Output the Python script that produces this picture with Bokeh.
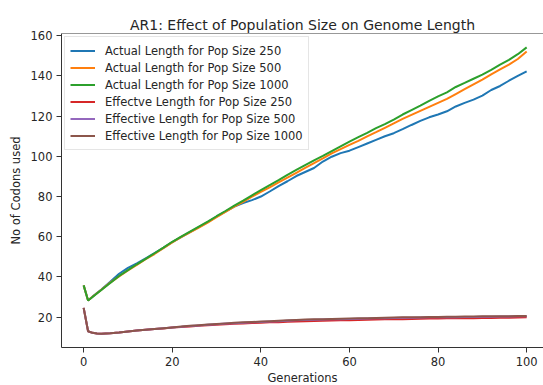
from bokeh.plotting import figure
from bokeh.models import Range1d, Span, Legend, LegendItem, FixedTicker
from bokeh.embed import file_html
from bokeh.resources import INLINE

gens = [0, 1, 2, 3, 4, 6, 8, 10, 12, 14, 16, 18, 20, 22, 24, 26, 28, 30, 32, 34, 36, 38,
        40, 42, 44, 46, 48, 50, 52, 54, 56, 58, 60, 62, 64, 66, 68, 70, 72, 74, 76, 78,
        80, 82, 84, 86, 88, 90, 92, 94, 96, 98, 100]

actual_250 = [35.8, 28.3, 30.2, 32.0, 33.8, 37.6, 41.6, 44.5, 46.8, 49.3, 51.8, 54.5, 57.3,
              59.8, 62.3, 64.8, 67.3, 70.0, 72.5, 75.0, 76.8, 78.2, 80.0, 82.5, 85.2, 87.6,
              90.2, 92.2, 94.2, 97.4, 99.8, 101.6, 102.8, 104.6, 106.4, 108.2, 110.0, 111.5,
              113.5, 115.6, 117.6, 119.4, 120.8, 122.4, 124.8, 126.6, 128.2, 130.2, 133.0,
              135.0, 137.6, 140.0, 142.3]

actual_500 = [35.8, 28.3, 30.1, 31.9, 33.6, 37.2, 40.3, 43.2, 46.0, 48.8, 51.4, 54.3, 57.2,
              59.8, 62.2, 64.5, 67.0, 69.8, 72.4, 75.0, 77.4, 79.9, 82.3, 84.6, 87.0, 89.4,
              91.8, 94.2, 96.6, 99.0, 101.5, 103.6, 105.7, 107.7, 109.9, 112.0, 114.2, 116.4,
              118.6, 120.6, 122.6, 124.6, 126.6, 128.6, 131.0, 133.4, 135.8, 138.2, 140.8,
              143.2, 145.6, 148.4, 152.2]

actual_1000 = [35.8, 28.3, 30.0, 31.8, 33.5, 37.0, 40.5, 43.4, 46.3, 49.0, 51.8, 54.6, 57.5,
               60.0, 62.5, 65.0, 67.5, 70.2, 72.8, 75.5, 78.0, 80.6, 83.2, 85.7, 88.2, 90.8,
               93.2, 95.6, 98.0, 100.2, 102.6, 105.0, 107.3, 109.5, 111.7, 114.0, 116.0, 118.3,
               120.8, 123.0, 125.2, 127.6, 129.8, 131.8, 134.5, 136.5, 138.6, 140.6, 143.0,
               145.6, 148.0, 150.8, 154.2]

effective_250 = [24.6, 13.0, 12.2, 11.9, 11.8, 12.0, 12.4, 12.9, 13.3, 13.7, 14.1, 14.4, 14.8,
                 15.1, 15.4, 15.7, 16.0, 16.2, 16.5, 16.7, 16.9, 17.1, 17.2, 17.4, 17.5, 17.7,
                 17.8, 18.0, 18.1, 18.2, 18.3, 18.4, 18.5, 18.6, 18.7, 18.8, 18.9, 19.0, 19.0,
                 19.1, 19.2, 19.3, 19.3, 19.4, 19.4, 19.5, 19.5, 19.6, 19.6, 19.7, 19.7, 19.8,
                 19.9]

effective_500 = [24.6, 13.0, 12.2, 11.9, 11.8, 12.0, 12.4, 12.9, 13.3, 13.7, 14.1, 14.5, 14.9,
                 15.2, 15.6, 15.9, 16.2, 16.5, 16.8, 17.0, 17.2, 17.4, 17.6, 17.8, 18.0, 18.2,
                 18.4, 18.6, 18.7, 18.8, 18.9, 19.0, 19.1, 19.2, 19.3, 19.4, 19.5, 19.6, 19.7,
                 19.7, 19.8, 19.9, 19.9, 20.0, 20.0, 20.1, 20.1, 20.2, 20.2, 20.3, 20.3, 20.4,
                 20.4]

effective_1000 = [24.6, 13.0, 12.2, 11.9, 11.8, 12.0, 12.4, 12.9, 13.3, 13.7, 14.1, 14.5, 14.9,
                  15.3, 15.7, 16.0, 16.3, 16.6, 16.9, 17.2, 17.4, 17.6, 17.8, 18.0, 18.2, 18.4,
                  18.6, 18.8, 18.9, 19.0, 19.1, 19.2, 19.3, 19.4, 19.5, 19.6, 19.7, 19.8, 19.9,
                  19.9, 20.0, 20.1, 20.1, 20.2, 20.2, 20.3, 20.3, 20.4, 20.4, 20.5, 20.5, 20.6,
                  20.6]

series_labels = ["Actual Length for Pop Size 250", "Actual Length for Pop Size 500",
                 "Actual Length for Pop Size 1000", "Effectve Length for Pop Size 250",
                 "Effective Length for Pop Size 500", "Effective Length for Pop Size 1000"]
series_values = [actual_250, actual_500, actual_1000, effective_250, effective_500, effective_1000]
colors = ["#1f77b4", "#ff7f0e", "#2ca02c", "#d62728", "#9467bd", "#8c564b"]

x_ticks = [0, 20, 40, 60, 80, 100]
y_ticks = [20, 40, 60, 80, 100, 120, 140, 160]

FONT = "DejaVu Sans"
TXT = "#262626"

p = figure(frame_width=482, frame_height=314, output_backend="svg", toolbar_location=None,
           x_range=Range1d(-5, 103.8), y_range=Range1d(4.9, 161.1),
           min_border_left=61, min_border_right=0, min_border_top=33, min_border_bottom=38,
           title="AR1: Effect of Population Size on Genome Length")

p.title.text_font = FONT
p.title.text_font_size = "14px"
p.title.text_font_style = "normal"
p.title.text_color = TXT
p.title.align = "center"
p.title.standoff = 2

p.outline_line_color = None
p.grid.visible = False
p.background_fill_color = "white"
p.border_fill_color = "white"

for ax in (p.xaxis[0], p.yaxis[0]):
    ax.axis_line_color = "#333333"
    ax.axis_line_width = 1
    ax.major_tick_line_color = "#333333"
    ax.major_tick_out = 5
    ax.major_tick_in = 0
    ax.minor_tick_line_color = None
    ax.major_label_text_font = FONT
    ax.major_label_text_font_size = "11.5px"
    ax.major_label_text_color = TXT
    ax.major_label_standoff = 4
    ax.axis_label_text_font = FONT
    ax.axis_label_text_font_size = "11.5px"
    ax.axis_label_text_font_style = "normal"
    ax.axis_label_text_color = TXT
    ax.axis_label_standoff = 2

p.yaxis[0].axis_label_standoff = 5

p.xaxis.ticker = FixedTicker(ticks=x_ticks)
p.yaxis.ticker = FixedTicker(ticks=y_ticks)
p.xaxis.axis_label = "Generations"
p.yaxis.axis_label = "No of Codons used"

top_spine = Span(location=161.1, dimension="width", line_color="#333333", line_width=1)
p.add_layout(top_spine)

items = []
for lab, vals, col in zip(series_labels, series_values, colors):
    r = p.line(gens, vals, line_color=col, line_width=2)
    items.append(LegendItem(label=lab, renderers=[r]))

legend = Legend(items=items, location="top_left")
legend.margin = 3
legend.padding = 5
legend.spacing = 0
legend.glyph_width = 25
legend.glyph_height = 17
legend.label_height = 17
legend.label_standoff = 10
legend.label_text_font = FONT
legend.label_text_font_size = "11.5px"
legend.label_text_color = TXT
legend.border_line_color = "#cccccc"
legend.border_line_width = 1
legend.background_fill_alpha = 0.8
p.add_layout(legend)

open("out.html", "w").write(file_html(p, INLINE))
